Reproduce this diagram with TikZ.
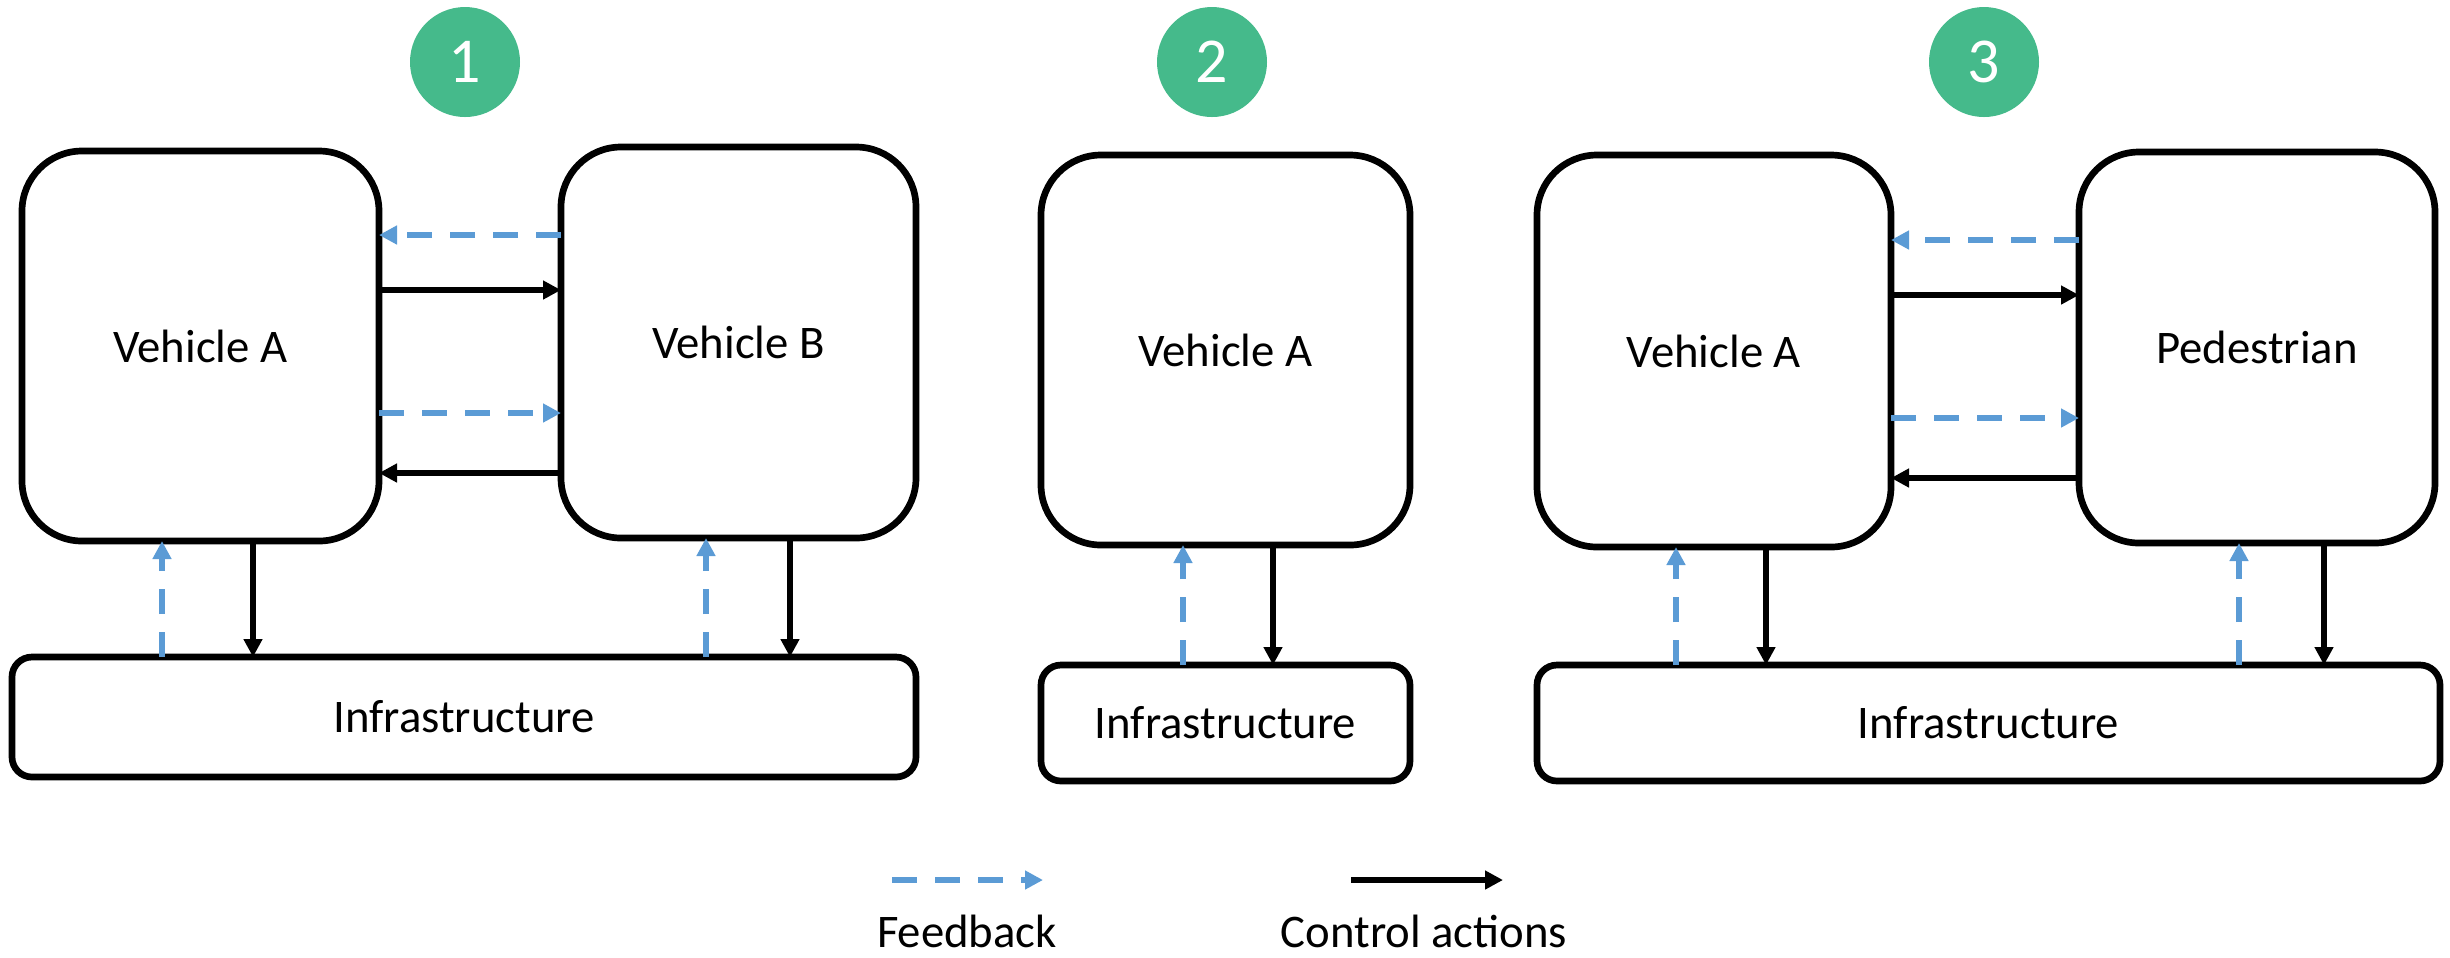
\documentclass[tikz,border=0pt]{standalone}
\usepackage{fontspec}
\setmainfont{Carlito}
\usetikzlibrary{arrows.meta}
\definecolor{fbblue}{RGB}{91,155,213}
\definecolor{numgreen}{RGB}{69,186,139}
\begin{document}
\begin{tikzpicture}[>={Triangle[length=1.8mm,width=1.8mm]},font=\fontsize{13.3}{16}\selectfont,
	box/.style={draw,line width=1.9pt,rounded corners=6mm,inner sep=0pt,outer sep=0pt},
	infra/.style={draw,line width=1.9pt,rounded corners=2mm,inner sep=0pt,outer sep=0pt},
	fb/.style={->,fbblue,line width=1.7pt,dash pattern=on 2.5mm off 1.8mm},
	ca/.style={->,line width=1.7pt},
	num/.style={circle,fill=numgreen,text=white,minimum size=1.1cm,inner sep=0pt,font=\fontsize{18.2}{20}\selectfont}]
	\useasboundingbox (0,0) rectangle (24.5,-9.57);
	\node[num] (n1) at (4.65,-0.62) {1};
	\node[box,minimum width=3.57cm,minimum height=3.90cm] (va1) at (2.005,-3.46) {Vehicle A};
	\node[box,minimum width=3.55cm,minimum height=3.91cm] (vb1) at (7.385,-3.425) {Vehicle B};
	\node[infra,minimum width=9.04cm,minimum height=1.20cm] (in1) at (4.64,-7.17) {Infrastructure};
	\draw[fb] (vb1.west |- 0,-2.35) -- (va1.east |- 0,-2.35);
	\draw[ca] (va1.east |- 0,-2.90) -- (vb1.west |- 0,-2.90);
	\draw[fb] (va1.east |- 0,-4.13) -- (vb1.west |- 0,-4.13);
	\draw[ca] (vb1.west |- 0,-4.73) -- (va1.east |- 0,-4.73);
	\draw[fb] (in1.north -| 1.62,0) -- (va1.south -| 1.62,0);
	\draw[ca] (va1.south -| 2.53,0) -- (in1.north -| 2.53,0);
	\draw[fb] (in1.north -| 7.06,0) -- (vb1.south -| 7.06,0);
	\draw[ca] (vb1.south -| 7.90,0) -- (in1.north -| 7.90,0);
	\node[num] (n2) at (12.12,-0.62) {2};
	\node[box,minimum width=3.69cm,minimum height=3.90cm] (va2) at (12.255,-3.50) {Vehicle A};
	\node[infra,minimum width=3.69cm,minimum height=1.16cm] (in2) at (12.255,-7.23) {Infrastructure};
	\draw[fb] (in2.north -| 11.83,0) -- (va2.south -| 11.83,0);
	\draw[ca] (va2.south -| 12.73,0) -- (in2.north -| 12.73,0);
	\node[num] (n3) at (19.84,-0.62) {3};
	\node[box,minimum width=3.54cm,minimum height=3.92cm] (va3) at (17.14,-3.51) {Vehicle A};
	\node[box,minimum width=3.56cm,minimum height=3.91cm] (pd3) at (22.57,-3.475) {Pedestrian};
	\node[infra,minimum width=9.03cm,minimum height=1.16cm] (in3) at (19.885,-7.23) {Infrastructure};
	\draw[fb] (pd3.west |- 0,-2.40) -- (va3.east |- 0,-2.40);
	\draw[ca] (va3.east |- 0,-2.95) -- (pd3.west |- 0,-2.95);
	\draw[fb] (va3.east |- 0,-4.18) -- (pd3.west |- 0,-4.18);
	\draw[ca] (pd3.west |- 0,-4.78) -- (va3.east |- 0,-4.78);
	\draw[fb] (in3.north -| 16.76,0) -- (va3.south -| 16.76,0);
	\draw[ca] (va3.south -| 17.66,0) -- (in3.north -| 17.66,0);
	\draw[fb] (in3.north -| 22.39,0) -- (pd3.south -| 22.39,0);
	\draw[ca] (pd3.south -| 23.24,0) -- (in3.north -| 23.24,0);
	\coordinate (f0) at (8.92,-8.80);
	\coordinate (f1) at (10.43,-8.80);
	\coordinate (c0) at (13.51,-8.80);
	\coordinate (c1) at (15.03,-8.80);
	\draw[fb] (f0) -- (f1);
	\draw[ca] (c0) -- (c1);
	\node[anchor=base] (fbl) at (9.67,-9.47) {Feedback};
	\node[anchor=base] (cal) at (14.24,-9.47) {Control actions};
\end{tikzpicture}
\end{document}
